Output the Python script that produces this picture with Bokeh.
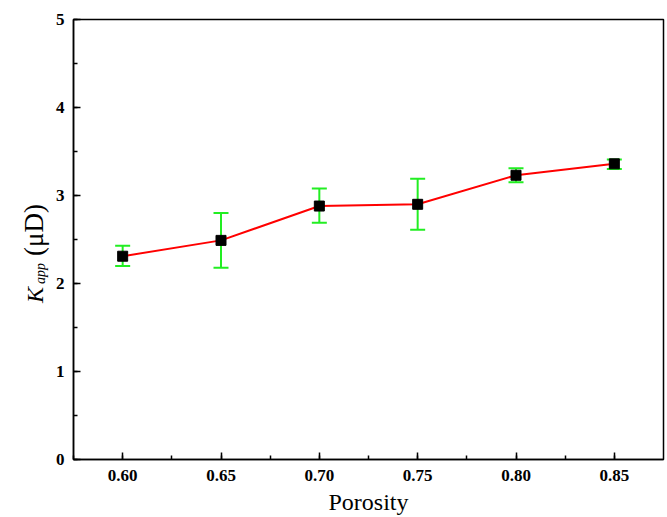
from bokeh.plotting import figure
from bokeh.layouts import row
from bokeh.models import (ColumnDataSource, Whisker, TeeHead, Label, Range1d,
                          SingleIntervalTicker, CustomJSTickFormatter)
from bokeh.embed import file_html
from bokeh.resources import INLINE

# data
porosity = [0.60, 0.65, 0.70, 0.75, 0.80, 0.85]
k_app = [2.31, 2.49, 2.88, 2.90, 3.23, 3.36]
k_upper = [2.43, 2.80, 3.08, 3.19, 3.31, 3.41]
k_lower = [2.20, 2.18, 2.69, 2.61, 3.15, 3.30]

FONT = "Liberation Serif"
LEFT_W = 50
TOP, BOTTOM = 19, 58

src = ColumnDataSource(dict(x=porosity, y=k_app, upper=k_upper, lower=k_lower))

p = figure(width=667 - LEFT_W, height=517, output_backend="svg", toolbar_location=None,
           x_range=Range1d(0.575, 0.875), y_range=Range1d(0, 5),
           min_border_left=73 - LEFT_W, min_border_right=4,
           min_border_top=TOP, min_border_bottom=BOTTOM)
p.xgrid.visible = False
p.ygrid.visible = False
p.outline_line_color = "black"
p.outline_line_width = 1.5
p.background_fill_color = "white"
p.border_fill_color = "white"

p.xaxis.ticker = SingleIntervalTicker(interval=0.05, num_minor_ticks=2)
p.yaxis.ticker = SingleIntervalTicker(interval=1, num_minor_ticks=2)
p.xaxis.formatter = CustomJSTickFormatter(code="return tick.toFixed(2);")
p.yaxis.formatter = CustomJSTickFormatter(code="return tick.toFixed(0);")

for ax in (p.xaxis[0], p.yaxis[0]):
    ax.axis_line_width = 1.5
    ax.axis_line_color = "black"
    ax.major_tick_in = 7
    ax.major_tick_out = 0
    ax.minor_tick_in = 4
    ax.minor_tick_out = 0
    ax.major_tick_line_width = 1.5
    ax.minor_tick_line_width = 1.5
    ax.major_tick_line_color = "black"
    ax.minor_tick_line_color = "black"
    ax.major_label_text_font = FONT
    ax.major_label_text_font_style = "bold"
    ax.major_label_text_font_size = "17px"
    ax.major_label_text_color = "black"

p.xaxis.major_label_standoff = 10
p.yaxis.major_label_standoff = 9
p.xaxis.axis_label = "Porosity"
p.xaxis.axis_label_text_font = FONT
p.xaxis.axis_label_text_font_style = "normal"
p.xaxis.axis_label_text_font_size = "24px"
p.xaxis.axis_label_text_color = "black"
p.xaxis.axis_label_standoff = 5

w = Whisker(base="x", upper="upper", lower="lower", source=src,
            line_color="#22ee22", line_width=2, level="underlay",
            upper_head=TeeHead(size=15, line_color="#22ee22", line_width=2),
            lower_head=TeeHead(size=15, line_color="#22ee22", line_width=2))
p.add_layout(w)

p.line("x", "y", source=src, line_color="red", line_width=2)
p.scatter("x", "y", source=src, marker="square", size=10, fill_color="black", line_color="black")

# left strip holding the y axis title: K_app (μD); its frame spans the same rows as p's frame,
# and its data units equal page pixels
lab = figure(width=LEFT_W, height=517, output_backend="svg", toolbar_location=None,
             x_range=Range1d(0, LEFT_W), y_range=Range1d(517 - BOTTOM, TOP),
             x_axis_location=None, y_axis_location=None,
             min_border_left=0, min_border_right=0,
             min_border_top=TOP, min_border_bottom=BOTTOM)
lab.xgrid.visible = False
lab.ygrid.visible = False
lab.outline_line_color = None
lab.background_fill_color = "white"
lab.border_fill_color = "white"

common = dict(angle=90, angle_units="deg", text_align="center", text_baseline="alphabetic",
              text_font=FONT, text_color="black")
lab.add_layout(Label(x=34, y=294.5, text="K", text_font_style="italic", text_font_size="24px", **common))
lab.add_layout(Label(x=40, y=273, text="app", text_font_style="italic", text_font_size="14px", **common))
lab.add_layout(Label(x=33, y=229.5, text="(μD)", text_font_style="normal", text_font_size="27px", **common))

layout = row(lab, p, spacing=0)
open("out.html", "w").write(file_html(layout, INLINE))
